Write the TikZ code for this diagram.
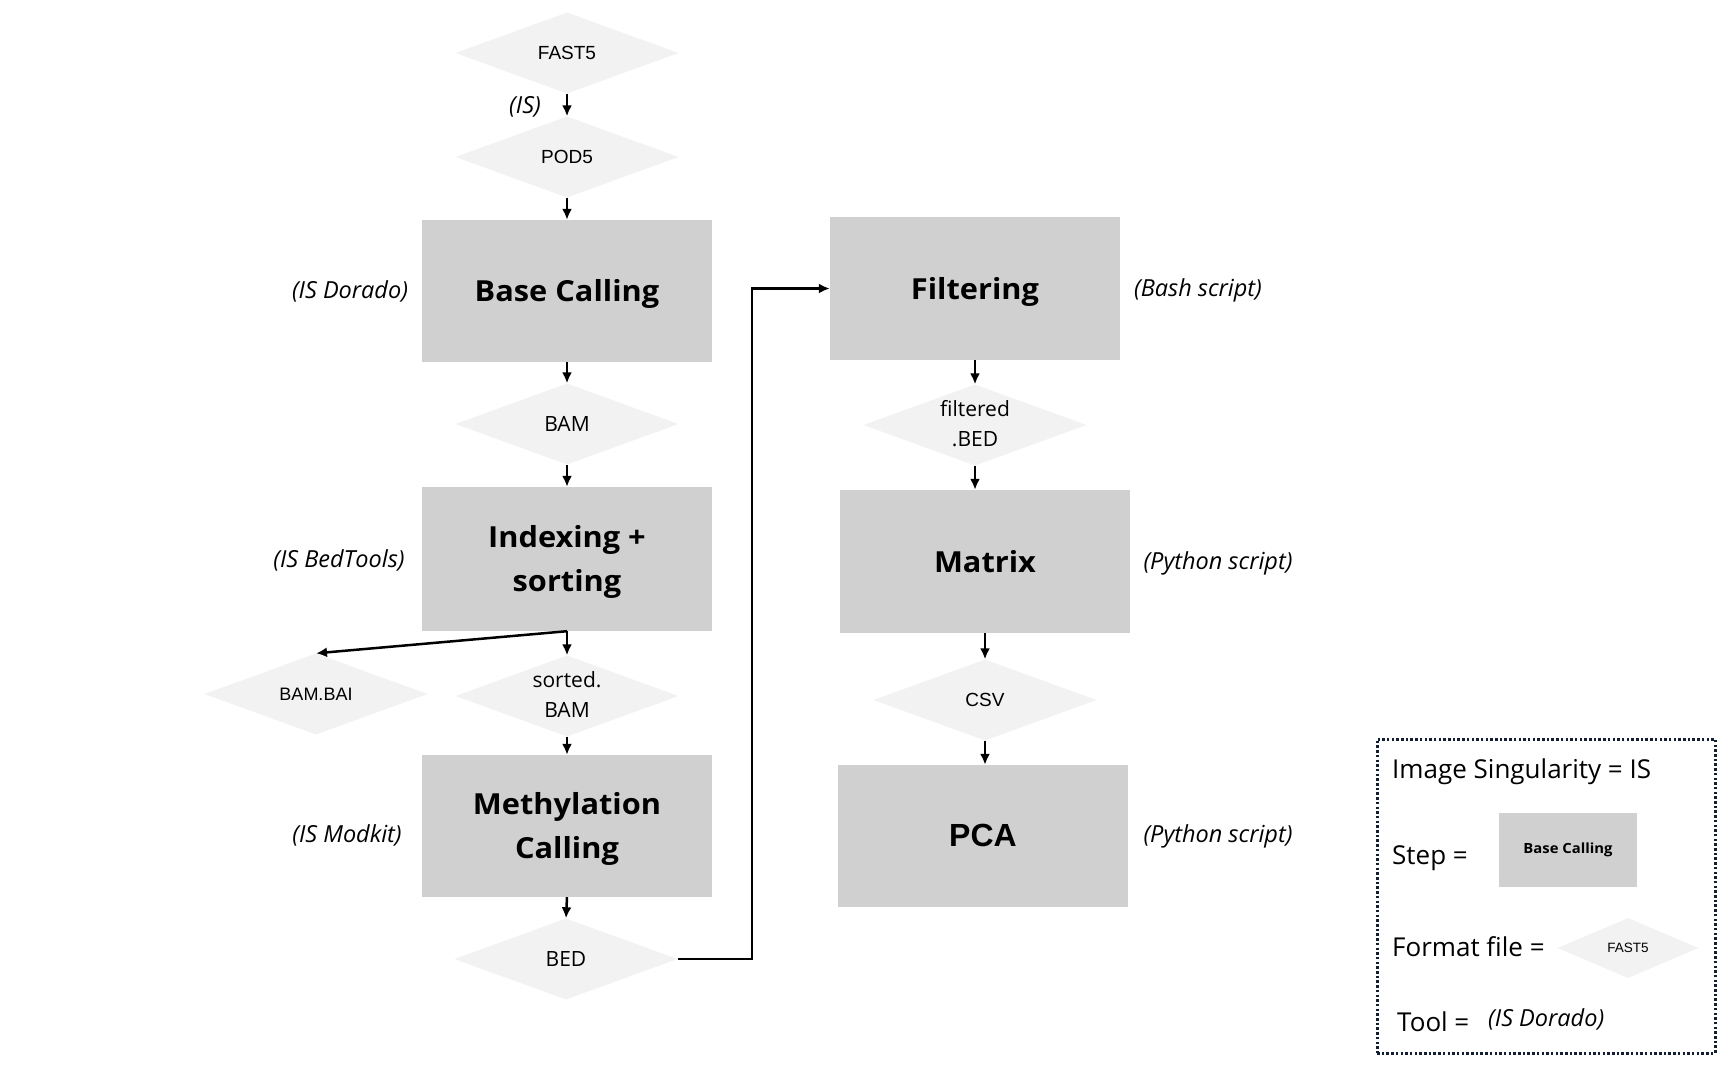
\documentclass[tikz,border=0pt]{standalone}
\usepackage{fontspec}
\setmainfont{Open Sans}
\newfontfamily\arialf{Liberation Sans}
\newfontfamily\stepfont[FakeStretch=1.06]{Open Sans}
\usetikzlibrary{shapes.geometric,arrows.meta}
\definecolor{stepgray}{RGB}{208,208,208}
\definecolor{fmtgray}{RGB}{242,242,242}
\definecolor{legendline}{RGB}{20,30,50}
\newcommand\zerobox[1]{\makebox[0pt]{#1}}
\newcommand\twoline[2]{\begin{tabular}{@{}c@{}}#1\\#2\end{tabular}}
\newcommand\stext[1]{\raisebox{-2pt}[\height][\depth]{\begin{tabular}{@{}c@{}}#1\end{tabular}}}
\begin{document}
\begin{tikzpicture}[x=1pt,y=-1pt,
  stepbox/.style={rectangle,fill=stepgray,minimum width=290pt,minimum height=142pt,
    inner sep=0pt,align=center,font=\stepfont\bfseries\fontsize{29}{44}\selectfont},
  fmt/.style={diamond,fill=fmtgray,minimum width=223pt,minimum height=81pt,inner sep=0pt,
    font=\fontsize{21}{30}\selectfont},
  fmtarial/.style={fmt,font=\arialf\fontsize{19}{24}\selectfont},
  tool/.style={inner sep=0pt,font=\itshape\fontsize{23.5}{28}\selectfont},
  legtext/.style={inner sep=0pt,anchor=west,font=\fontsize{26}{30}\selectfont},
  arr/.style={draw,line width=2.5pt,-{Latex[length=11pt,width=10pt]}}
]
\fill[white] (0,0) rectangle (1730,1074);
\useasboundingbox (0,0) rectangle (1730,1074);

% left column
\node[fmtarial] (fast5) at (567,53) {\zerobox{FAST5}};
\node[fmtarial] (pod5) at (567,157) {\zerobox{POD5}};
\node[stepbox] (base) at (567,291) {\stext{Base Calling}};
\node[fmt] (bam) at (567,424) {\zerobox{BAM}};
\node[stepbox,minimum height=144pt] (idx) at (567,559) {\stext{Indexing +\\sorting}};
\node[fmtarial,font=\arialf\fontsize{18}{22}\selectfont] (bai) at (316,694) {\zerobox{BAM.BAI}};
\node[fmt] (sorted) at (567,696) {\zerobox{\twoline{sorted.}{BAM}}};
\node[stepbox] (meth) at (567,826) {\stext{Methylation\\Calling}};
\node[fmt] (bed) at (566,959) {\zerobox{BED}};

% right column
\node[stepbox,minimum height=143pt] (filt) at (975,288.5) {\stext{Filtering}};
\node[fmt] (fbed) at (975,425) {\zerobox{\twoline{filtered}{.BED}}};
\node[stepbox,minimum height=143pt] (mat) at (985,561.5) {\stext{Matrix}};
\node[fmtarial] (csv) at (985,700) {\zerobox{CSV}};
\node[stepbox,font=\arialf\bfseries\fontsize{32}{44}\selectfont] (pca) at (983,836) {\stext{PCA}};

% tool labels
\node[tool] (tis) at (525,107) {(IS)};
\node[tool] (tdorado) at (350,291) {(IS Dorado)};
\node[tool] (tbed) at (339,560) {(IS BedTools)};
\node[tool] (tmod) at (347,835) {(IS Modkit)};
\node[tool] (tbash) at (1198,290) {(Bash script)};
\node[tool] (tpy1) at (1218,563) {(Python script)};
\node[tool] (tpy2) at (1218,836) {(Python script)};

% connectors
\path[arr] (fast5.south) -- (pod5.north);
\path[arr] (pod5.south) -- (base.north);
\path[arr] (base.south) -- (bam.north);
\path[arr] (bam.south) -- (idx.north);
\path[arr] (idx.south) -- (sorted.north);
\path[arr] (idx.south) -- (bai.north);
\path[arr] (sorted.south) -- (meth.north);
\path[arr] (meth.south) -- (bed.north);
\coordinate (turn) at (752,959);
\path[arr] (bed.east) -- (turn) |- (filt.west);
\path[arr] (filt.south) -- (fbed.north);
\path[arr] (fbed.south) -- (fbed.south |- mat.north);
\path[arr] (mat.south) -- (csv.north);
\path[arr] (csv.south) -- (csv.south |- pca.north);

% legend
\node[draw=legendline,line width=3pt,dash pattern=on 2.5pt off 2.2pt,
  minimum width=338pt,minimum height=314pt,inner sep=0pt] (legend) at (1546,896) {};
\node[legtext] (l1) at (1392,772) {Image Singularity = IS};
\node[legtext] (l2) at (1392,858) {Step =};
\node[stepbox,minimum width=138pt,minimum height=74pt,
  font=\stepfont\bfseries\fontsize{14}{16}\selectfont] (lstep) at (1568,850) {Base Calling};
\node[legtext] (l3) at (1392,947) {Format file =};
\node[fmt,minimum width=141pt,minimum height=60pt,
  font=\arialf\fontsize{13.5}{16}\selectfont] (lfmt) at (1628,948) {\zerobox{FAST5}};
\node[legtext] (l4) at (1397,1022) {Tool =};
\node[tool,anchor=west] (l5) at (1488,1019) {(IS Dorado)};
\end{tikzpicture}
\end{document}
